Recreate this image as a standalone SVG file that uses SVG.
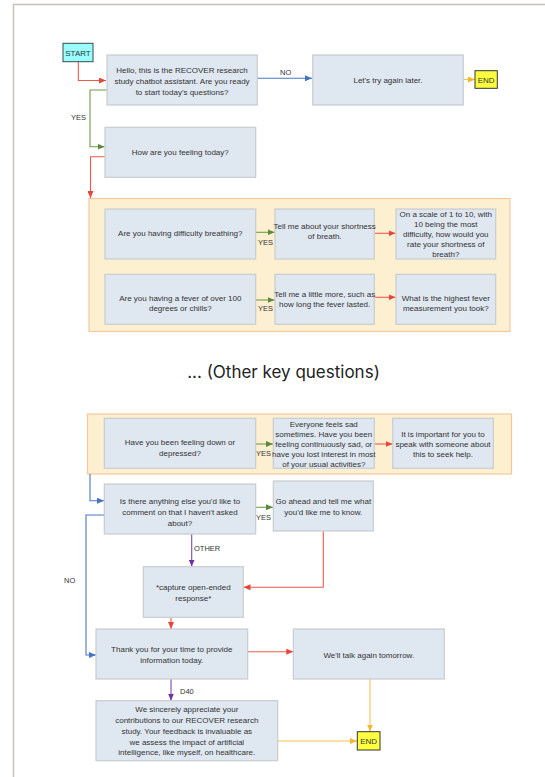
<svg xmlns="http://www.w3.org/2000/svg" width="545" height="777" viewBox="0 0 545 777">
<style>
.box{fill:#dfe7f1;stroke:#c9ccd0;stroke-width:1.2}
.panel{fill:#fdf0d0;stroke:#f4c89c;stroke-width:1.2}
.t{font-family:"Liberation Sans",Arial,sans-serif;font-size:8px;fill:#333;text-anchor:middle}
.lbl{font-family:"Liberation Sans",Arial,sans-serif;font-size:7.5px;fill:#333}
.c{fill:none;stroke-width:1.1}
.red{stroke:#ec5a4a}
.blue{stroke:#4a76c6}
.green{stroke:#6f9a4a}
.purple{stroke:#7b4ab4}
.yellow{stroke:#f5c24a}
</style>
<defs>
<marker id="ar" markerUnits="userSpaceOnUse" markerWidth="7" markerHeight="6" refX="7" refY="3" orient="auto"><path d="M0,0L7,3L0,6z" fill="#e8453c"/></marker>
<marker id="ab" markerUnits="userSpaceOnUse" markerWidth="7" markerHeight="6" refX="7" refY="3" orient="auto"><path d="M0,0L7,3L0,6z" fill="#4472c4"/></marker>
<marker id="ag" markerUnits="userSpaceOnUse" markerWidth="7" markerHeight="6" refX="7" refY="3" orient="auto"><path d="M0,0L7,3L0,6z" fill="#5b8a3a"/></marker>
<marker id="ap" markerUnits="userSpaceOnUse" markerWidth="7" markerHeight="6" refX="7" refY="3" orient="auto"><path d="M0,0L7,3L0,6z" fill="#7030a0"/></marker>
<marker id="ay" markerUnits="userSpaceOnUse" markerWidth="7" markerHeight="6" refX="7" refY="3" orient="auto"><path d="M0,0L7,3L0,6z" fill="#f2b92e"/></marker>
</defs>
<rect width="545" height="777" fill="#fff"/>
<path d="M13.5,777V4.5H545" fill="none" stroke="#c9bfbb" stroke-width="1.5"/>

<g id="panel1"><rect class="panel" x="89" y="198.5" width="421" height="133"/></g>
<g id="panel2"><rect class="panel" x="87.5" y="414" width="424" height="60"/></g>

<g id="connectors">
<path class="c red" d="M78.3,61.7V80.5H106" marker-end="url(#ar)"/>
<path class="c blue" d="M257.3,78.3H312" marker-end="url(#ab)"/>
<path class="c yellow" d="M463.3,79.5H475" marker-end="url(#ay)"/>
<path class="c green" d="M107,90H90V146.7H104.5" marker-end="url(#ag)"/>
<path class="c red" d="M105,156.7H90.5V198" marker-end="url(#ar)"/>
<path class="c green" d="M255.7,232.3H274.5" marker-end="url(#ag)"/>
<path class="c red" d="M374.3,233.3H395.5" marker-end="url(#ar)"/>
<path class="c green" d="M255.7,300H274.5" marker-end="url(#ag)"/>
<path class="c red" d="M374.3,297.3H395.5" marker-end="url(#ar)"/>
<path class="c green" d="M255.7,444H273" marker-end="url(#ag)"/>
<path class="c red" d="M374.3,444H392.5" marker-end="url(#ar)"/>
<path class="c blue" d="M90,474V500.7H104" marker-end="url(#ab)"/>
<path class="c green" d="M255.7,507.3H273" marker-end="url(#ag)"/>
<path class="c blue" d="M104.3,515H86V655H96" marker-end="url(#ab)"/>
<path class="c purple" d="M191.7,534V566.5" marker-end="url(#ap)"/>
<path class="c red" d="M323.3,531V587.3H243.5" marker-end="url(#ar)"/>
<path class="c red" d="M171,617.3V629" marker-end="url(#ar)"/>
<path class="c red" d="M247.7,651.7H293.3" marker-end="url(#ar)"/>
<path class="c yellow" d="M370,679V731.5" marker-end="url(#ay)"/>
<path class="c purple" d="M171,679V700.5" marker-end="url(#ap)"/>
<path class="c yellow" d="M277.7,741H357" marker-end="url(#ay)"/>
<text class="lbl" x="280" y="75">NO</text>
<text class="lbl" x="71" y="120">YES</text>
<text class="lbl" x="258" y="244.5">YES</text>
<text class="lbl" x="258" y="311">YES</text>
<text class="lbl" x="256" y="456">YES</text>
<text class="lbl" x="256" y="519.5">YES</text>
<text class="lbl" x="64" y="583">NO</text>
<text class="lbl" x="194" y="551">OTHER</text>
<text class="lbl" x="180" y="694">D40</text>
</g>

<g id="start"><rect x="63" y="43.3" width="30" height="18.4" fill="#99ffff" stroke="#3a4a4a" stroke-width="1"/><text class="t" x="78" y="55.5">START</text></g>
<g id="hello"><rect class="box" x="107" y="55" width="150.3" height="50"/><text class="t" x="182" y="73">Hello, this is the RECOVER research</text><text class="t" x="182" y="83.7">study chatbot assistant. Are you ready</text><text class="t" x="182" y="94.5">to start today's questions?</text></g>
<g id="tryagain"><rect class="box" x="312.7" y="55" width="150.6" height="50"/><text class="t" x="388" y="83">Let's try again later.</text></g>
<g id="end1"><rect x="475" y="70.7" width="22.3" height="17.6" fill="#ffff40" stroke="#333" stroke-width="1"/><text class="t" x="486.2" y="82.5">END</text></g>
<g id="feeling"><rect class="box" x="105" y="127.3" width="150.7" height="50"/><text class="t" x="180.3" y="155.2">How are you feeling today?</text></g>

<g id="breathing"><rect class="box" x="105" y="209" width="150.7" height="50"/><text class="t" x="180.3" y="235.8">Are you having difficulty breathing?</text></g>
<g id="shortness"><rect class="box" x="275" y="209" width="99.3" height="50"/><text class="t" x="324.7" y="228.7" font-size="7.8">Tell me about your shortness</text><text class="t" x="324.7" y="238.7">of breath.</text></g>
<g id="scale"><rect class="box" x="396" y="209" width="99.7" height="50"/><text class="t" x="445.8" y="217.3">On a scale of 1 to 10, with</text><text class="t" x="445.8" y="227.3">10 being the most</text><text class="t" x="445.8" y="237.3">difficulty, how would you</text><text class="t" x="445.8" y="247.3">rate your shortness of</text><text class="t" x="445.8" y="257">breath?</text></g>
<g id="fever"><rect class="box" x="105" y="274.3" width="150.7" height="50"/><text class="t" x="180.3" y="300.7">Are you having a fever of over 100</text><text class="t" x="180.3" y="310.7">degrees or chills?</text></g>
<g id="tellmore"><rect class="box" x="275" y="274.3" width="99.3" height="50"/><text class="t" x="324.7" y="297.3" font-size="7.8">Tell me a little more, such as</text><text class="t" x="324.7" y="307.3">how long the fever lasted.</text></g>
<g id="highest"><rect class="box" x="396" y="274.3" width="99.7" height="50"/><text class="t" x="445.8" y="300.7">What is the highest fever</text><text class="t" x="445.8" y="310.7">measurement you took?</text></g>

<text x="283.5" y="378" text-anchor="middle" font-family="Inter,Roboto,sans-serif" font-size="17" fill="#222">... (Other key questions)</text>

<g id="down"><rect class="box" x="104.3" y="418.3" width="151.4" height="50"/><text class="t" x="180" y="445.3">Have you been feeling down or</text><text class="t" x="180" y="455.7">depressed?</text></g>
<g id="everyone"><rect class="box" x="273.3" y="418.3" width="101" height="50"/><text class="t" x="323.8" y="427">Everyone feels sad</text><text class="t" x="323.8" y="437">sometimes. Have you been</text><text class="t" x="323.8" y="447" font-size="7.8">feeling continuously sad, or</text><text class="t" x="323.8" y="457" font-size="7.8">have you lost interest in most</text><text class="t" x="323.8" y="467">of your usual activities?</text></g>
<g id="important"><rect class="box" x="392.7" y="418.3" width="100.6" height="50"/><text class="t" x="443" y="437">It is important for you to</text><text class="t" x="443" y="447">speak with someone about</text><text class="t" x="443" y="457">this to seek help.</text></g>

<g id="anything"><rect class="box" x="104.3" y="484" width="151.4" height="50"/><text class="t" x="180" y="504">Is there anything else you'd like to</text><text class="t" x="180" y="515.3">comment on that I haven't asked</text><text class="t" x="180" y="526.3">about?</text></g>
<g id="goahead"><rect class="box" x="273.3" y="481" width="100" height="50"/><text class="t" x="323.3" y="504">Go ahead and tell me what</text><text class="t" x="323.3" y="514.7">you'd like me to know.</text></g>
<g id="capture"><rect class="box" x="143.3" y="566.7" width="100" height="50.6"/><text class="t" x="193.3" y="590.3">*capture open-ended</text><text class="t" x="193.3" y="600.7">response*</text></g>
<g id="thankyou"><rect class="box" x="96" y="629" width="151.7" height="50"/><text class="t" x="171.8" y="652.3">Thank you for your time to provide</text><text class="t" x="171.8" y="663">information today.</text></g>
<g id="talkagain"><rect class="box" x="293.3" y="629" width="151" height="50"/><text class="t" x="368.8" y="658.3">We'll talk again tomorrow.</text></g>
<g id="appreciate"><rect class="box" x="96" y="700.7" width="181.7" height="60"/><text class="t" x="186.8" y="712.3">We sincerely appreciate your</text><text class="t" x="186.8" y="723">contributions to our RECOVER research</text><text class="t" x="186.8" y="734">study. Your feedback is invaluable as</text><text class="t" x="186.8" y="744.7">we assess the impact of artificial</text><text class="t" x="186.8" y="755.3">intelligence, like myself, on healthcare.</text></g>
<g id="end2"><rect x="357.3" y="731.7" width="22.7" height="18.3" fill="#ffff40" stroke="#333" stroke-width="1"/><text class="t" x="368.7" y="743.8">END</text></g>
</svg>
